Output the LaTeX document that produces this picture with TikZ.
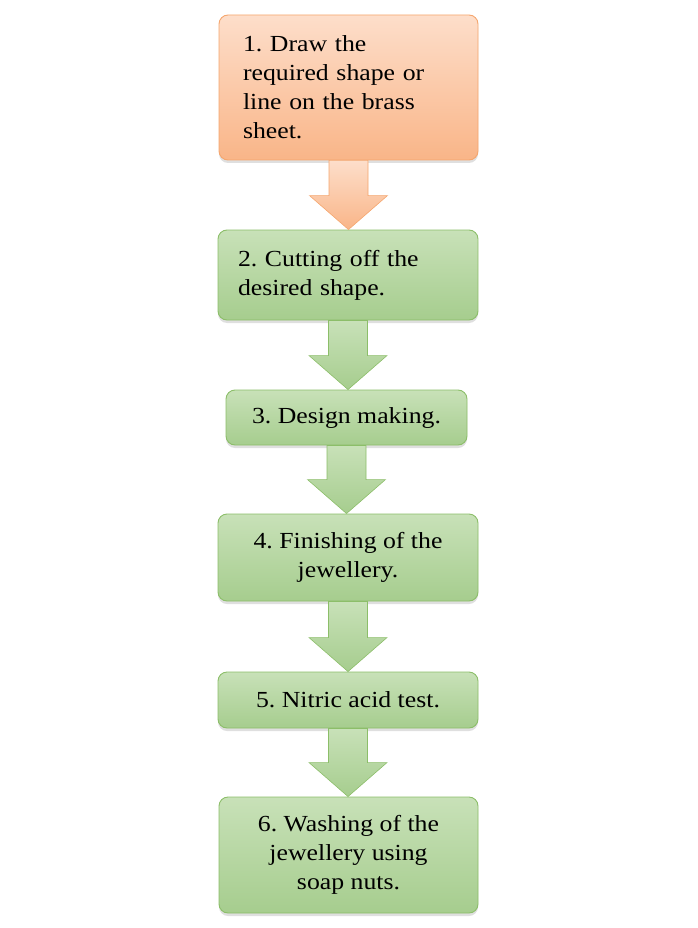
\documentclass[tikz,border=0pt]{standalone}
\usepackage{fontspec}
\setmainfont[FakeStretch=1.12]{Liberation Serif}
\usetikzlibrary{calc, shadows}
\frenchspacing

\definecolor{orgtop}{RGB}{253,222,202}
\definecolor{orgbot}{RGB}{249,181,136}
\definecolor{orgline}{RGB}{245,166,110}
\definecolor{grntop}{RGB}{200,225,184}
\definecolor{grnbot}{RGB}{166,205,142}
\definecolor{grnline}{RGB}{140,190,105}

% block arrow from the bottom of one box to the top of the next
\newcommand{\blockarr}[3]{%
  \path[#3] let \p1=(#1.south), \p2=(#2.north) in
    (\x1-19.5pt,\y1) -- (\x1+19.5pt,\y1) -- (\x1+19.5pt,\y2+34pt)
    -- (\x1+39pt,\y2+34pt) -- (\x1,\y2) -- (\x1-39pt,\y2+34pt)
    -- (\x1-19.5pt,\y2+34pt) -- cycle;}

\begin{document}
\begin{tikzpicture}[x=1pt, y=1pt,
    b/.style={rounded corners=9pt, line width=0.9pt, inner sep=0pt,
      font=\fontsize{23}{29}\selectfont,
      drop shadow={opacity=0.25, shadow xshift=0pt, shadow yshift=-3pt}},
    org/.style={b, draw=orgline, top color=orgtop, bottom color=orgbot},
    grn/.style={b, draw=grnline, top color=grntop, bottom color=grnbot},
    oarr/.style={draw=orgline, line width=0.6pt, top color=orgtop, bottom color=orgbot},
    garr/.style={draw=grnline, line width=0.6pt, top color=grntop, bottom color=grnbot}]
    \useasboundingbox (0,0) rectangle (698,-928);
    \node[org, minimum width=259pt, minimum height=145pt, text width=211pt, align=left]
      (s1) at (348.5,-87.5) {1. Draw the\\required shape or\\line on the brass\\sheet.};
    \node[grn, minimum width=260pt, minimum height=90pt, text width=220pt, align=left]
      (s2) at (348,-275) {2. Cutting off the\\desired shape.};
    \node[grn, minimum width=241pt, minimum height=55pt, align=center]
      (s3) at (346.5,-417.5) {3. Design making.};
    \node[grn, minimum width=260pt, minimum height=87pt, align=center]
      (s4) at (348,-557.5) {4. Finishing of the\\jewellery.};
    \node[grn, minimum width=260pt, minimum height=56pt, align=center]
      (s5) at (348,-700) {5. Nitric acid test.};
    \node[grn, minimum width=259pt, minimum height=116pt, align=center]
      (s6) at (348.5,-855) {6. Washing of the\\jewellery using\\soap nuts.};
    \blockarr{s1}{s2}{oarr}
    \blockarr{s2}{s3}{garr}
    \blockarr{s3}{s4}{garr}
    \blockarr{s4}{s5}{garr}
    \blockarr{s5}{s6}{garr}
  \end{tikzpicture}
\end{document}
